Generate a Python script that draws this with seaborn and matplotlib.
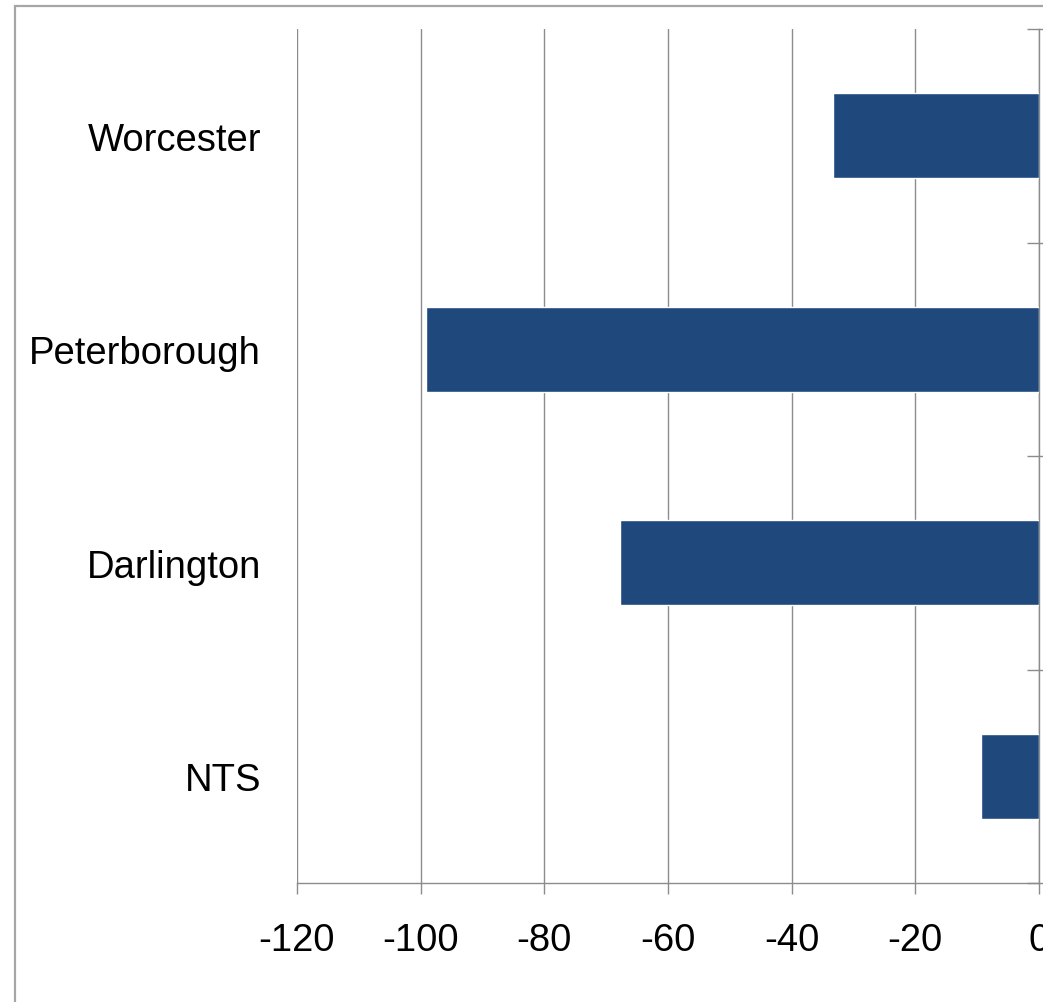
import matplotlib
matplotlib.use("Agg")
import matplotlib.pyplot as plt
from matplotlib.patches import Rectangle
from matplotlib.ticker import FixedLocator
import seaborn as sns
import pandas as pd

# Change by site
sites = ["Worcester", "Peterborough", "Darlington", "NTS"]
changes = [-33.3, -99.1, -67.7, -9.3]
x_ticks = [-120, -100, -80, -60, -40, -20, 0]

sns.set_theme(style="white")
plt.rcParams["font.family"] = ["Liberation Sans", "DejaVu Sans"]

W, H = 1043, 1003
fig = plt.figure(figsize=(W / 100, H / 100), dpi=100)
fig.patch.set_facecolor("white")

# outer chart-area frame
fig.patches.append(Rectangle((15 / W, -0.05), 1.2, (1003 - 7) / H + 0.05,
                             transform=fig.transFigure, fill=False,
                             edgecolor="#a6a6a6", linewidth=1.6, zorder=0))

ax = fig.add_axes([297 / W, (H - 884) / H, (1039 - 297) / W, (884 - 30) / H])
df = pd.DataFrame({"site": sites, "change": changes})
sns.barplot(data=df, x="change", y="site", orient="h", color="#1F497D",
            saturation=1, width=0.4, ax=ax, zorder=3)

ax.set_xlim(-120, 0)
ax.set_ylim(3.5, -0.5)
ax.set_xticks(x_ticks)
ax.set_xticklabels([str(v) for v in x_ticks])
ax.set_xlabel("")
ax.set_ylabel("")

ax.grid(axis="x", color="#8c8c8c", linewidth=1.0, zorder=0)
ax.grid(axis="y", visible=False)

for side in ["top", "left"]:
    ax.spines[side].set_visible(False)
for side in ["right", "bottom"]:
    ax.spines[side].set_visible(True)
    ax.spines[side].set_color("#8c8c8c")
    ax.spines[side].set_linewidth(1.0)

ax.tick_params(axis="x", which="major", bottom=True, direction="out",
               length=8, width=1.0, color="#8c8c8c", pad=20,
               labelsize=27.5, labelcolor="black")
ax.tick_params(axis="y", which="major", left=False, right=False, length=0,
               pad=26, labelsize=27.5, labelcolor="black")

# category boundary ticks on the vertical axis at zero
ax.yaxis.set_minor_locator(FixedLocator([-0.5, 0.5, 1.5, 2.5, 3.5]))
ax.tick_params(axis="y", which="minor", left=False, right=True,
               direction="inout", length=17, width=1.0, color="#8c8c8c")

for lbl in ax.get_xticklabels():
    lbl.set_clip_on(False)

fig.savefig("out.png", dpi=100)
